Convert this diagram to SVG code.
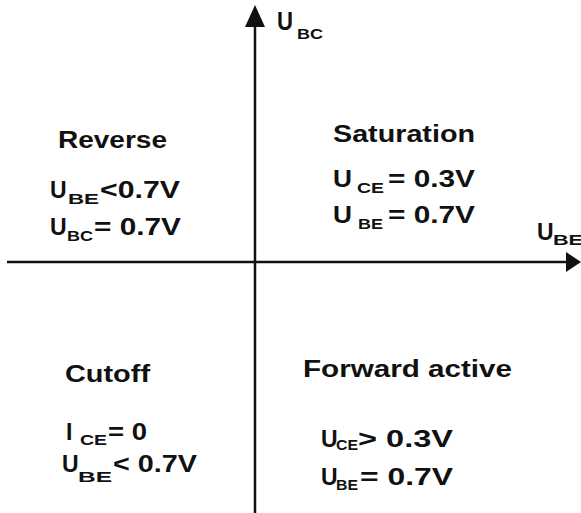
<svg xmlns="http://www.w3.org/2000/svg" width="581" height="513" viewBox="0 0 581 513">
<style>
text{font-family:"Liberation Sans",Arial,sans-serif;font-weight:bold;fill:#111}
.m{font-size:23px}
.s{font-size:14px}
.ax{stroke:#111;stroke-width:2.5;fill:none}
.ah{fill:#111}
</style>
<rect width="581" height="513" fill="#fff"/>
<g id="axes">
<line class="ax" x1="255" y1="24" x2="255" y2="513"/>
<polygon class="ah" points="245,27 255,5 265,27"/>
<line class="ax" x1="7" y1="262" x2="568" y2="262"/>
<polygon class="ah" points="566,252 581,262 566,272"/>
<text class="m" x="277" y="30" style="font-size:25px" textLength="16" lengthAdjust="spacingAndGlyphs">U</text>
<text class="s" x="297" y="39" textLength="26" lengthAdjust="spacingAndGlyphs">BC</text>
<text class="m" x="537" y="240">U</text>
<text class="s" x="553" y="245" textLength="30" lengthAdjust="spacingAndGlyphs">BE</text>
</g>
<g id="reverse">
<text class="m" x="58" y="148" textLength="109" lengthAdjust="spacingAndGlyphs">Reverse</text>
<text class="m" x="50" y="198">U</text>
<text class="s" x="68" y="204" textLength="31" lengthAdjust="spacingAndGlyphs">BE</text>
<text class="m" x="100" y="198" textLength="80" lengthAdjust="spacingAndGlyphs">&lt;0.7V</text>
<text class="m" x="50" y="235">U</text>
<text class="s" x="67" y="241" textLength="26" lengthAdjust="spacingAndGlyphs">BC</text>
<text class="m" x="94" y="235" textLength="87" lengthAdjust="spacingAndGlyphs">= 0.7V</text>
</g>
<g id="saturation">
<text class="m" x="333" y="142" textLength="142" lengthAdjust="spacingAndGlyphs">Saturation</text>
<text class="m" x="333" y="187" textLength="19" lengthAdjust="spacingAndGlyphs">U</text>
<text class="s" x="357" y="193" textLength="27" lengthAdjust="spacingAndGlyphs">CE</text>
<text class="m" x="388" y="187" textLength="87" lengthAdjust="spacingAndGlyphs">= 0.3V</text>
<text class="m" x="333" y="223" textLength="19" lengthAdjust="spacingAndGlyphs">U</text>
<text class="s" x="358" y="229" textLength="25" lengthAdjust="spacingAndGlyphs">BE</text>
<text class="m" x="388" y="223" textLength="87" lengthAdjust="spacingAndGlyphs">= 0.7V</text>
</g>
<g id="cutoff">
<text class="m" x="65" y="382" textLength="85" lengthAdjust="spacingAndGlyphs">Cutoff</text>
<text class="m" x="66" y="440">I</text>
<text class="s" x="80" y="445" textLength="27" lengthAdjust="spacingAndGlyphs">CE</text>
<text class="m" x="108" y="440" textLength="39" lengthAdjust="spacingAndGlyphs">= 0</text>
<text class="m" x="62" y="472">U</text>
<text class="s" x="78" y="482" textLength="34" lengthAdjust="spacingAndGlyphs">BE</text>
<text class="m" x="113" y="472" textLength="84" lengthAdjust="spacingAndGlyphs">&lt; 0.7V</text>
</g>
<g id="forward">
<text class="m" x="303" y="377" textLength="209" lengthAdjust="spacingAndGlyphs">Forward active</text>
<text class="m" x="321" y="447">U</text>
<text class="s" x="336" y="450" textLength="22" lengthAdjust="spacingAndGlyphs">CE</text>
<text class="m" x="358" y="447" textLength="95" lengthAdjust="spacingAndGlyphs">&gt; 0.3V</text>
<text class="m" x="321" y="485">U</text>
<text class="s" x="336" y="490" textLength="22" lengthAdjust="spacingAndGlyphs">BE</text>
<text class="m" x="360" y="485" textLength="93" lengthAdjust="spacingAndGlyphs">= 0.7V</text>
</g>
</svg>
